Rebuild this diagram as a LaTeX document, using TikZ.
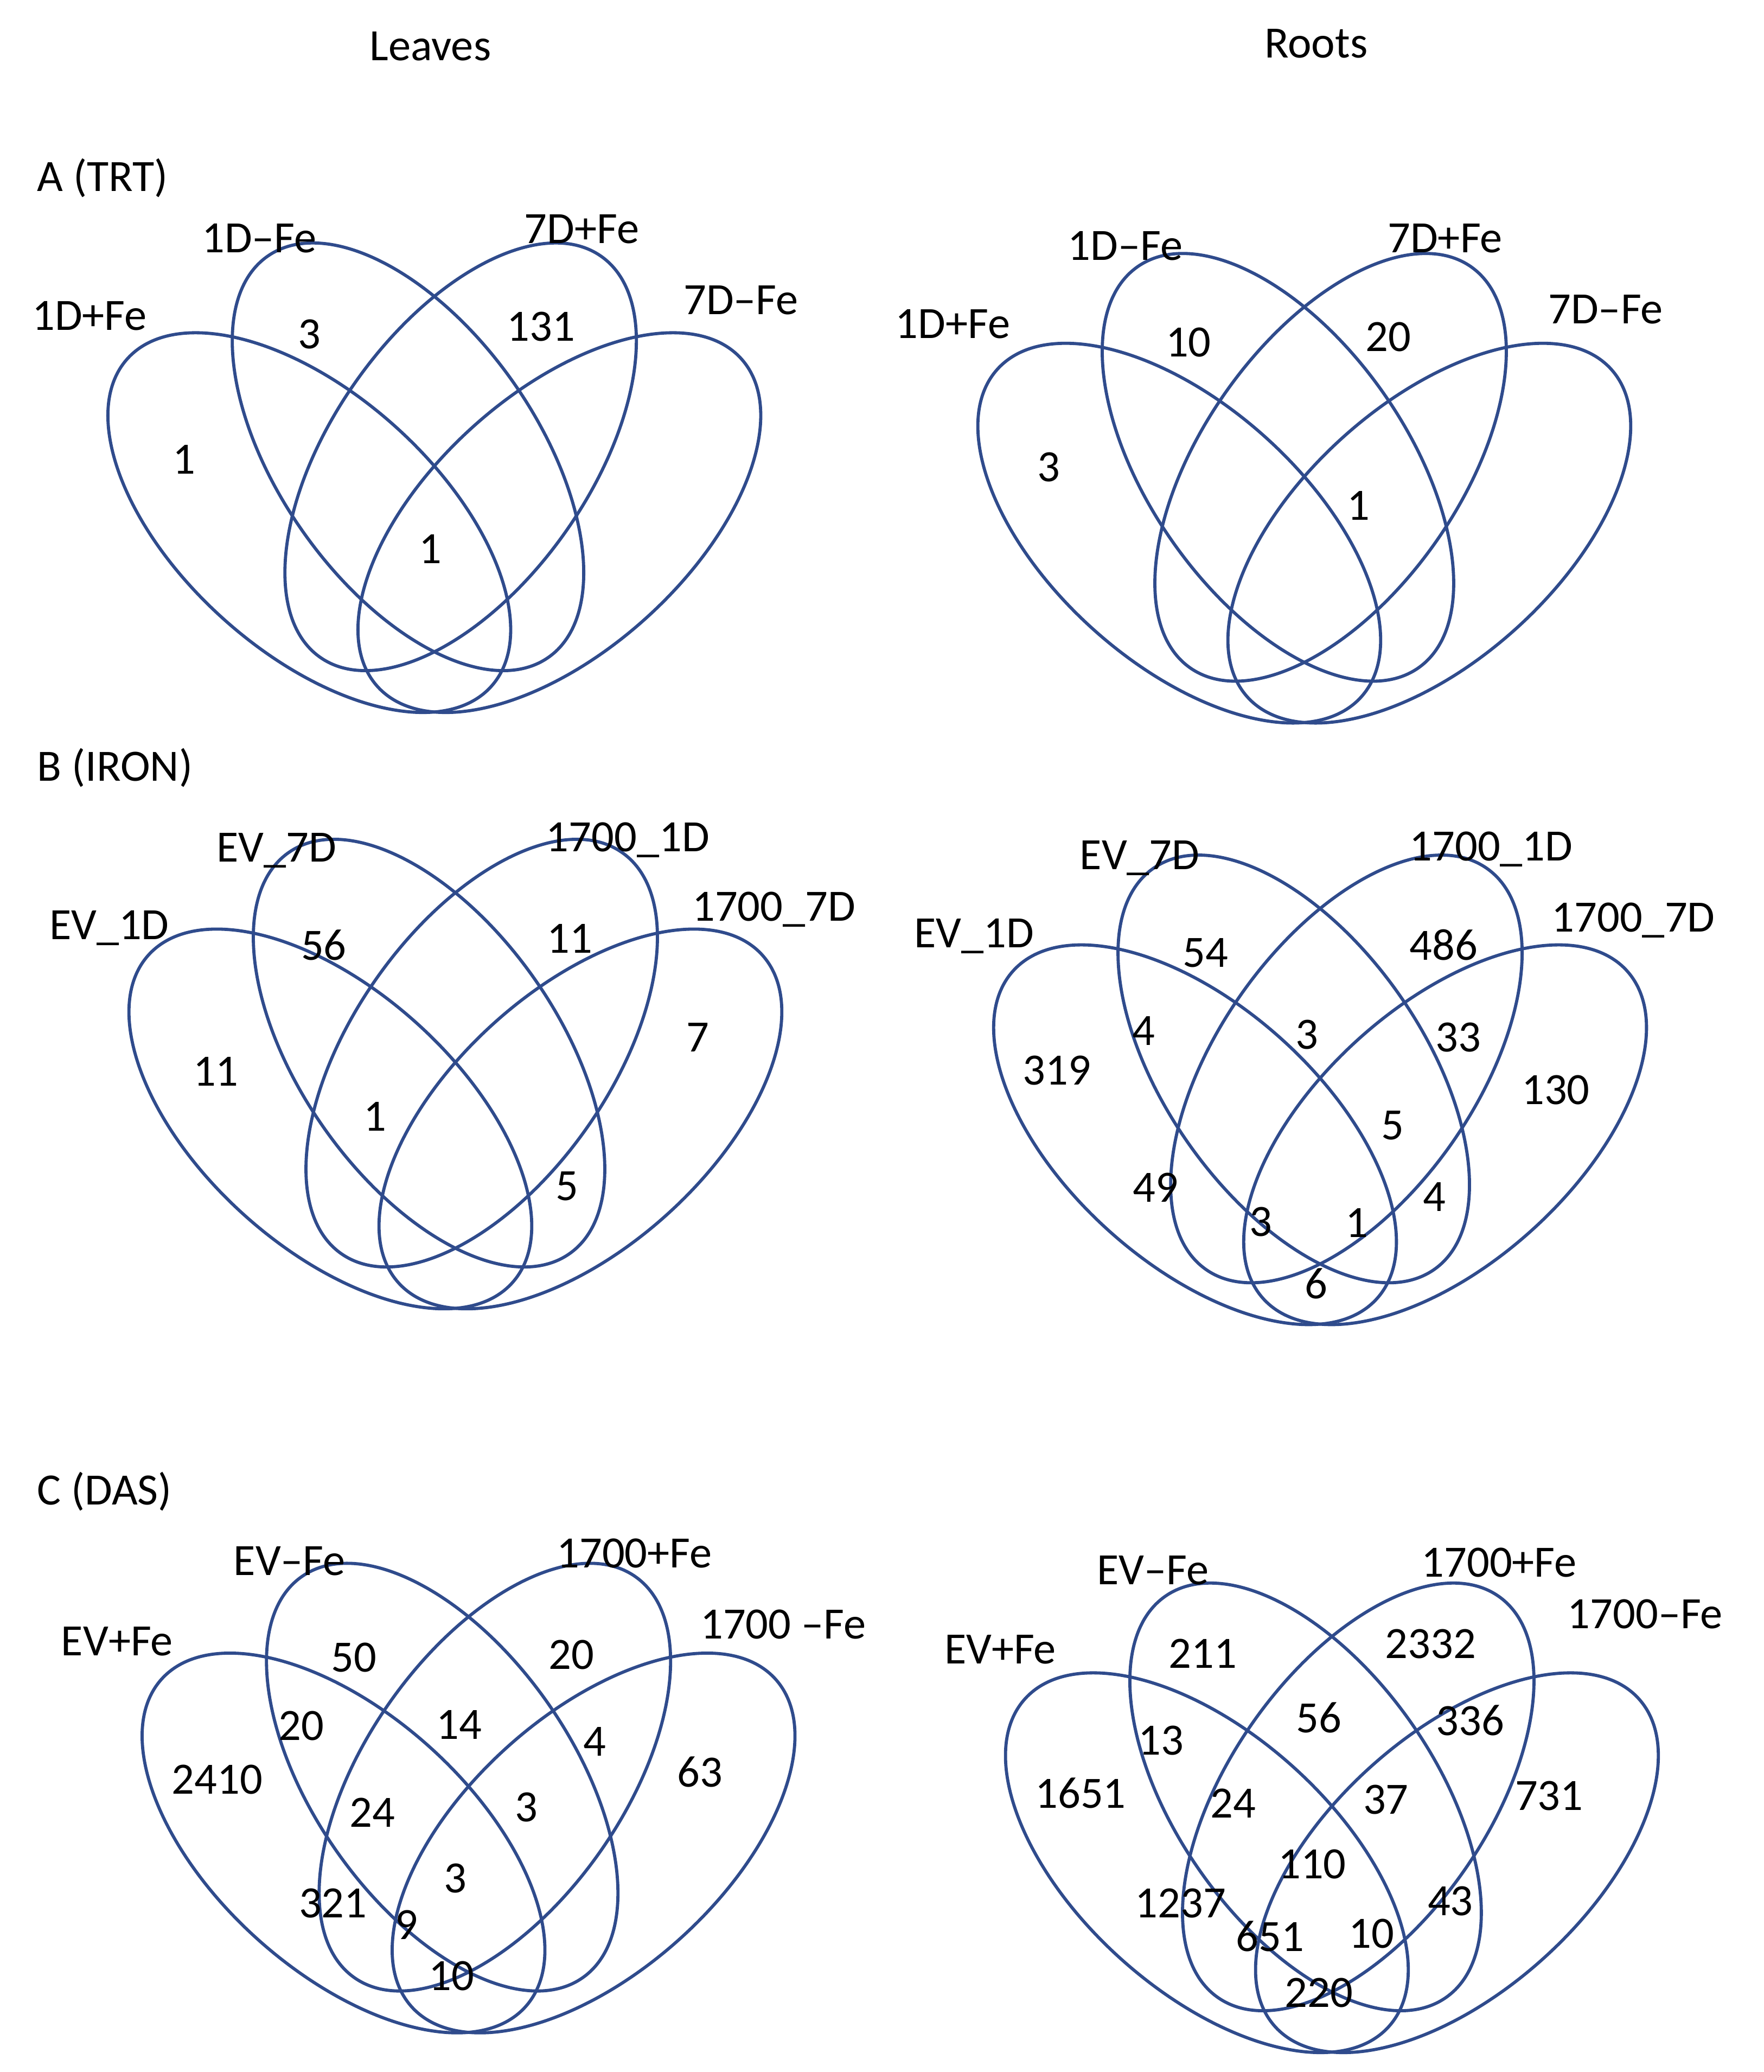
\documentclass[tikz,border=0pt]{standalone}
\usepackage{fontspec}
\setmainfont{Carlito}
\begin{document}
\begin{tikzpicture}[x=0.5pt,y=-0.5pt,
  ell/.style={draw={rgb,255:red,47;green,75;blue,140},line width=1.2pt},
  lab/.style={font=\fontsize{17}{20}\selectfont,inner sep=0pt}]
\useasboundingbox (0,0) rectangle (1340,1574);
\newcommand{\myvenn}[2]{%
  \draw[ell] (#1-95,#2+30) ellipse[x radius=93pt,y radius=49pt,rotate=-42];
  \draw[ell] (#1-20,#2-20) ellipse[x radius=93pt,y radius=49pt,rotate=-55];
  \draw[ell] (#1+20,#2-20) ellipse[x radius=93pt,y radius=49pt,rotate=55];
  \draw[ell] (#1+95,#2+30) ellipse[x radius=93pt,y radius=49pt,rotate=42];}
\myvenn{330}{367}
\myvenn{991}{375}
\myvenn{346}{820}
\myvenn{1003}{832}
\myvenn{356}{1370}
\myvenn{1012}{1385}
\node[lab] (t1) at (327,35) {Leaves};
\node[lab] (t2) at (1000,33) {Roots};
\node[lab,anchor=west] (pa) at (28,135) {A (TRT)};
\node[lab,anchor=west] (pb) at (28,583) {B (IRON)};
\node[lab,anchor=west] (pc) at (28,1133) {C (DAS)};
\foreach \x/\y/\t [count=\i] in {197/181/1D–Fe,442/174/7D+Fe,68/240/1D+Fe,563/228/7D–Fe,
 235/254/3,411/248/131,140/349/1,327/417/1,
 855/187/1D–Fe,1098/181/7D+Fe,724/246/1D+Fe,1220/235/7D–Fe,
 903/260/10,1055/256/20,797/355/3,1032/384/1,
 210/646/EV\_7D,477/638/1700\_1D,83/705/EV\_1D,588/691/1700\_7D,
 246/718/56,433/713/11,164/814/11,285/848/1,530/788/7,431/901/5,
 866/652/EV\_7D,1133/645/1700\_1D,740/711/EV\_1D,1241/699/1700\_7D,
 916/724/54,1097/718/486,869/783/4,993/786/3,1108/788/33,803/813/319,1182/828/130,
 1058/855/5,878/902/49,1090/909/4,958/928/3,1031/929/1,1000/975/6,
 220/1186/EV–Fe,482/1180/1700+Fe,89/1247/EV+Fe,595/1234/1700 –Fe,
 269/1259/50,434/1257/20,229/1311/20,349/1310/14,452/1323/4,165/1352/2410,532/1346/63,
 283/1377/24,400/1373/3,346/1427/3,253/1446/321,309/1462/9,343/1501/10,
 876/1193/EV–Fe,1139/1187/1700+Fe,760/1253/EV+Fe,1250/1226/1700–Fe,
 914/1256/211,1087/1249/2332,882/1322/13,1002/1305/56,1117/1307/336,821/1362/1651,
 1177/1364/731,937/1370/24,1053/1367/37,997/1416/110,897/1446/1237,1102/1444/43,
 965/1471/651,1042/1469/10,1002/1514/220}
  \node[lab] (n\i) at (\x,\y) {\t};
\end{tikzpicture}
\end{document}
